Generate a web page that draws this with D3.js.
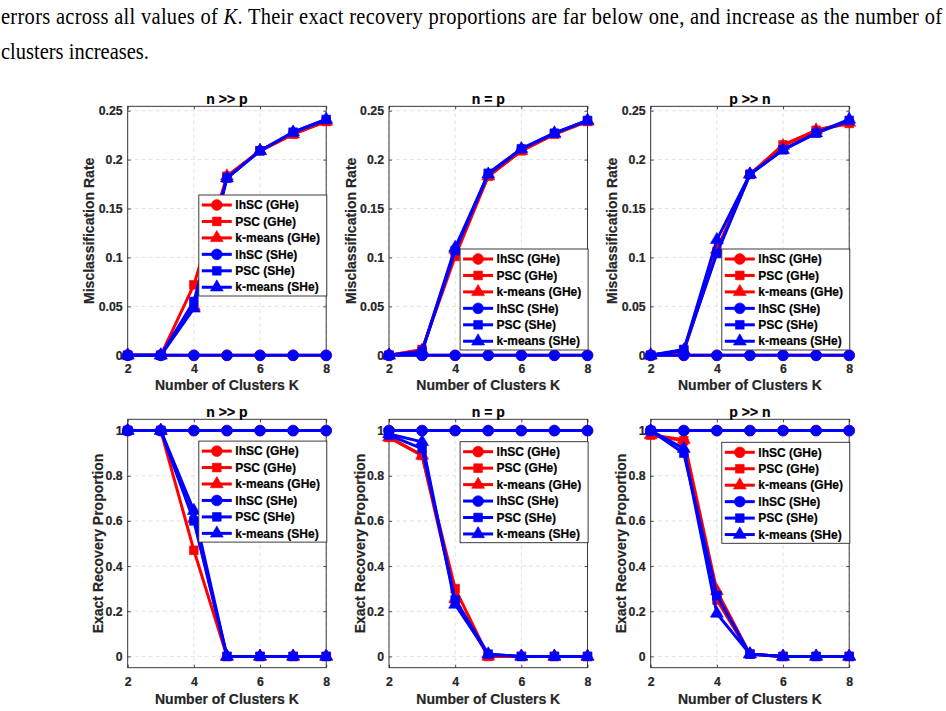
<!DOCTYPE html>
<html>
<head>
<meta charset="utf-8">
<script src="https://cdn.jsdelivr.net/npm/d3@7"></script>
<style>
  html, body { margin: 0; padding: 0; background: #ffffff; }
  svg { display: block; }
</style>
</head>
<body>
<script>
// ---------------- DATA ----------------
const K = [2, 3, 4, 5, 6, 7, 8];
const xTickValues = [2, 4, 6, 8];
const misTickValues = [0, 0.05, 0.1, 0.15, 0.2, 0.25];
const misTickLabels = ["0", "0.05", "0.1", "0.15", "0.2", "0.25"];
const recTickValues = [0, 0.2, 0.4, 0.6, 0.8, 1];
const recTickLabels = ["0", "0.2", "0.4", "0.6", "0.8", "1"];
const panelTitles = ["n >> p", "n = p", "p >> n"];
const seriesNames = ["lhSC (GHe)", "PSC (GHe)", "k-means (GHe)", "lhSC (SHe)", "PSC (SHe)", "k-means (SHe)"];
const seriesColors = ["#ff0000", "#ff0000", "#ff0000", "#0000ff", "#0000ff", "#0000ff"];
const seriesMarkers = ["circle", "square", "triangle", "circle", "square", "triangle"];

// Misclassification rate — order: lhSC(GHe), PSC(GHe), k-means(GHe), lhSC(SHe), PSC(SHe), k-means(SHe)
const misNggP = [
  [0, 0, 0, 0, 0, 0, 0],
  [0, 0, 0.072, 0.183, 0.209, 0.226, 0.239],
  [0, 0, 0.050, 0.183, 0.209, 0.226, 0.239],
  [0, 0, 0, 0, 0, 0, 0],
  [0, 0, 0.055, 0.181, 0.209, 0.228, 0.241],
  [0, 0, 0.048, 0.181, 0.209, 0.228, 0.241]
];
const misNeqP = [
  [0, 0, 0, 0, 0, 0, 0],
  [0, 0.006, 0.101, 0.183, 0.209, 0.226, 0.239],
  [0, 0.005, 0.108, 0.183, 0.209, 0.226, 0.239],
  [0, 0, 0, 0, 0, 0, 0],
  [0, 0.004, 0.107, 0.186, 0.211, 0.227, 0.240],
  [0, 0.004, 0.110, 0.185, 0.211, 0.227, 0.240]
];
const misPggN = [
  [0, 0, 0, 0, 0, 0, 0],
  [0, 0.005, 0.106, 0.185, 0.215, 0.230, 0.237],
  [0, 0.004, 0.108, 0.185, 0.214, 0.230, 0.238],
  [0, 0, 0, 0, 0, 0, 0],
  [0, 0.006, 0.104, 0.185, 0.210, 0.227, 0.240],
  [0, 0.005, 0.118, 0.185, 0.210, 0.227, 0.241]
];

// Exact recovery proportion
const recNggP = [
  [1, 1, 1, 1, 1, 1, 1],
  [1, 1, 0.47, 0, 0, 0, 0],
  [1, 1, 0.61, 0, 0, 0, 0],
  [1, 1, 1, 1, 1, 1, 1],
  [1, 1, 0.60, 0, 0, 0, 0],
  [1, 1, 0.645, 0, 0, 0, 0]
];
const recNeqP = [
  [1, 1, 1, 1, 1, 1, 1],
  [0.97, 0.89, 0.30, 0, 0, 0, 0],
  [0.97, 0.89, 0.255, 0, 0, 0, 0],
  [1, 1, 1, 1, 1, 1, 1],
  [0.98, 0.92, 0.25, 0.01, 0, 0, 0],
  [0.985, 0.95, 0.23, 0.01, 0, 0, 0]
];
const recPggN = [
  [1, 1, 1, 1, 1, 1, 1],
  [0.98, 0.955, 0.25, 0.01, 0, 0, 0],
  [0.98, 0.96, 0.29, 0.01, 0, 0, 0],
  [1, 1, 1, 1, 1, 1, 1],
  [1.0, 0.90, 0.27, 0.01, 0, 0, 0],
  [1.0, 0.92, 0.19, 0.01, 0, 0, 0]
];

// ---------------- LAYOUT ----------------
const W = 946, H = 711;
const svg = d3.select("body").append("svg").attr("width", W).attr("height", H);
svg.append("rect").attr("width", W).attr("height", H).attr("fill", "#fff");

// paragraph text (slightly tall, narrow serif as in the scanned page)
const para = svg.append("g").attr("font-family", "'Liberation Serif', 'Times New Roman', serif")
  .attr("font-size", 20.5).attr("fill", "#000");
const l1 = para.append("text").attr("transform", "translate(1,23.5) scale(1,1.12)")
  .attr("textLength", 941).attr("lengthAdjust", "spacing");
l1.append("tspan").text("errors across all values of ");
l1.append("tspan").attr("font-style", "italic").text("K");
l1.append("tspan").text(".  Their exact recovery proportions are far below one, and increase as the number of");
para.append("text").attr("transform", "translate(1,58.5) scale(1,1.12)").text("clusters increases.");

const colLeft = [127.7, 389, 650.7];
const axW = 198.5;
const rows = [
  { top: 106.3, bottom: 355.3, domain: [0, 0.2545], ticks: misTickValues, labels: misTickLabels,
    ylabel: "Misclassification Rate", ylabX: -38.4, data: [misNggP, misNeqP, misPggN], xlabY: 13 },
  { top: 419.3, bottom: 667.7, domain: [-0.05, 1.05], ticks: recTickValues, labels: recTickLabels,
    ylabel: "Exact Recovery Proportion", ylabX: -29.4, data: [recNggP, recNeqP, recPggN], xlabY: 14 }
];
const legendTops = [
  [ (r) => r.top + 88.7, (r) => r.bottom - 106.3, (r) => r.bottom - 106.3 ],
  [ (r) => r.top + 21.8, (r) => r.top + 22.4, (r) => r.top + 23 ]
];

const axisColor = "#262626";
const gridColor = "#dcdcdc";
const fontSans = "'Liberation Sans', Arial, Helvetica, sans-serif";
const lineW = 3;

const symbolOf = {
  circle: d3.symbol().type(d3.symbolCircle).size(92),
  square: d3.symbol().type(d3.symbolSquare).size(76),
  triangle: d3.symbol().type(d3.symbolTriangle).size(72)
};

rows.forEach((row, ri) => {
  colLeft.forEach((L, ci) => {
    const R = L + axW;
    const x = d3.scaleLinear().domain([2, 8]).range([L, R]);
    const y = d3.scaleLinear().domain(row.domain).range([row.bottom, row.top]);
    const g = svg.append("g");

    // grid
    g.append("g").selectAll("line").data(xTickValues).join("line")
      .attr("x1", d => x(d)).attr("x2", d => x(d))
      .attr("y1", row.top).attr("y2", row.bottom)
      .attr("stroke", gridColor).attr("stroke-width", 0.8).attr("stroke-dasharray", "4,3");
    g.append("g").selectAll("line").data(row.ticks).join("line")
      .attr("x1", L).attr("x2", R)
      .attr("y1", d => y(d)).attr("y2", d => y(d))
      .attr("stroke", gridColor).attr("stroke-width", 0.8).attr("stroke-dasharray", "4,3");

    // axes
    const ax = g.append("g").attr("transform", `translate(0,${row.bottom})`)
      .call(d3.axisBottom(x).tickValues(xTickValues).tickFormat(d3.format("d")).tickSize(-3).tickPadding(0));
    const ay = g.append("g").attr("transform", `translate(${L},0)`)
      .call(d3.axisLeft(y).tickValues(row.ticks).tickFormat((d, i) => row.labels[i]).tickSize(-3).tickPadding(5));
    const at = g.append("g").attr("transform", `translate(0,${row.top})`)
      .call(d3.axisTop(x).tickValues(xTickValues).tickFormat("").tickSize(-3));
    const ar = g.append("g").attr("transform", `translate(${R},0)`)
      .call(d3.axisRight(y).tickValues(row.ticks).tickFormat("").tickSize(-3));
    [ax, ay, at, ar].forEach(a => {
      a.select(".domain").remove();
      a.selectAll(".tick line").attr("stroke", axisColor).attr("stroke-width", 0.8);
      a.selectAll("text").attr("font-family", fontSans).attr("font-weight", "bold")
        .attr("font-size", 12.3).attr("fill", axisColor)
        .attr("stroke", axisColor).attr("stroke-width", 0.2);
    });
    ax.selectAll("text").attr("y", row.xlabY).attr("dy", "0.35em");

    // box
    g.append("rect").attr("x", L).attr("y", row.top).attr("width", axW).attr("height", row.bottom - row.top)
      .attr("fill", "none").attr("stroke", axisColor).attr("stroke-width", 0.9);

    // title & labels
    g.append("text").attr("x", (L + R) / 2).attr("y", row.top - 7.3).attr("dy", "0.35em")
      .attr("text-anchor", "middle").attr("font-family", fontSans).attr("font-weight", "bold")
      .attr("font-size", 14).attr("fill", "#000").attr("stroke", "#000").attr("stroke-width", 0.2)
      .text(panelTitles[ci]);
    g.append("text").attr("x", (L + R) / 2).attr("y", row.bottom + (ri === 0 ? 29.7 : 31.3)).attr("dy", "0.35em")
      .attr("text-anchor", "middle").attr("font-family", fontSans).attr("font-weight", "bold")
      .attr("font-size", 14).attr("fill", axisColor).attr("stroke", axisColor).attr("stroke-width", 0.2)
      .text("Number of Clusters K");
    g.append("text")
      .attr("transform", `translate(${L + row.ylabX},${(row.top + row.bottom) / 2}) rotate(-90)`)
      .attr("dy", "0.35em").attr("text-anchor", "middle").attr("font-family", fontSans)
      .attr("font-weight", "bold").attr("font-size", 14).attr("fill", axisColor)
      .attr("stroke", axisColor).attr("stroke-width", 0.2).text(row.ylabel);

    // series
    const data = row.data[ci];
    const line = d3.line().x((d, i) => x(K[i])).y(d => y(d));
    data.forEach((vals, si) => {
      const sg = g.append("g");
      sg.append("path").datum(vals).attr("d", line).attr("fill", "none")
        .attr("stroke", seriesColors[si]).attr("stroke-width", lineW).attr("stroke-linejoin", "round");
      sg.selectAll("path.m").data(vals).join("path").attr("class", "m")
        .attr("transform", (d, i) => `translate(${x(K[i])},${y(d)})`)
        .attr("d", symbolOf[seriesMarkers[si]]())
        .attr("fill", seriesColors[si]).attr("stroke", seriesColors[si]).attr("stroke-width", 0.6);
    });

    // legend
    const lgTop = legendTops[ri][ci](row);
    const lgW = 128, lgH = 101;
    const lgL = R + 0.6 - lgW;
    const lg = g.append("g");
    lg.append("rect").attr("x", lgL).attr("y", lgTop).attr("width", lgW).attr("height", lgH)
      .attr("fill", "#fff").attr("stroke", axisColor).attr("stroke-width", 0.9);
    seriesNames.forEach((name, si) => {
      const cy = lgTop + 10 + si * 16.45;
      lg.append("line").attr("x1", lgL + 3).attr("x2", lgL + 33).attr("y1", cy).attr("y2", cy)
        .attr("stroke", seriesColors[si]).attr("stroke-width", lineW);
      lg.append("path").attr("transform", `translate(${lgL + 18},${cy})`)
        .attr("d", symbolOf[seriesMarkers[si]]())
        .attr("fill", seriesColors[si]).attr("stroke", seriesColors[si]).attr("stroke-width", 0.6);
      lg.append("text").attr("x", lgL + 36.5).attr("y", cy).attr("dy", "0.35em")
        .attr("font-family", fontSans).attr("font-weight", "bold").attr("font-size", 12)
        .attr("fill", "#000").attr("stroke", "#000").attr("stroke-width", 0.2).text(name);
    });
  });
});
</script>
</body>
</html>
